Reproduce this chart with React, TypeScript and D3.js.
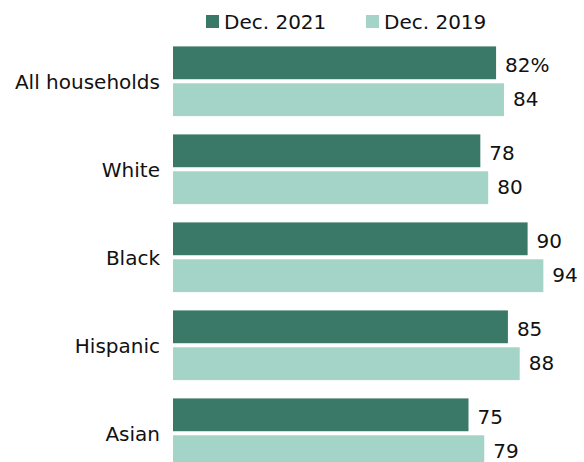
import React from "react";
import * as d3 from "d3";

const categories = ["All households", "White", "Black", "Hispanic", "Asian"];
const seriesNames = ["Dec. 2021", "Dec. 2019"];
const values2021 = [82, 78, 90, 85, 75];
const values2019 = [84, 80, 94, 88, 79];
const colors = ["#3a7867", "#a4d4c8"];

const W = 584;
const H = 462;
const FONT = "'DejaVu Sans', sans-serif";

export default function App() {
  const x = d3.scaleLinear().domain([0, 100]).range([173, 567]);
  const y = d3
    .scaleBand<string>()
    .domain(categories)
    .range([46.4, 468.1])
    .paddingInner(0.208)
    .paddingOuter(0);
  const inner = d3
    .scaleBand<string>()
    .domain(seriesNames)
    .range([0, y.bandwidth()])
    .paddingInner(0.11);
  const seriesValues = [values2021, values2019];
  const labelOffset = [9.5, 6.8];

  return (
    <svg
      width={W}
      height={H}
      style={{ position: "absolute", left: 0, top: 0, display: "block" }}
      fontFamily={FONT}
    >
      <rect width={W} height={H} fill="#fff" />
      <g>
        <rect x={206} y={15} width={13} height={13} fill={colors[0]} />
        <text x={224} y={29} fontSize={20} fill="#111">
          {seriesNames[0]}
        </text>
        <rect x={366} y={15} width={13} height={13} fill={colors[1]} />
        <text x={384} y={29} fontSize={20} fill="#111">
          {seriesNames[1]}
        </text>
      </g>
      {categories.map((c, i) => {
        const y0 = y(c)!;
        return (
          <g key={c}>
            <text
              x={160}
              y={y0 + y.bandwidth() / 2 + 8}
              textAnchor="end"
              fontSize={20}
              fill="#111"
            >
              {c}
            </text>
            {seriesNames.map((s, j) => {
              const v = seriesValues[j][i];
              const by = y0 + inner(s)!;
              return (
                <g key={s}>
                  <rect
                    x={x(0)}
                    y={by}
                    width={x(v) - x(0)}
                    height={inner.bandwidth()}
                    fill={colors[j]}
                  />
                  <text
                    x={x(v) + 9}
                    y={by + inner.bandwidth() / 2 + labelOffset[j]}
                    fontSize={20}
                    fill="#111"
                  >
                    {i === 0 && j === 0 ? `${v}%` : v}
                  </text>
                </g>
              );
            })}
          </g>
        );
      })}
    </svg>
  );
}
